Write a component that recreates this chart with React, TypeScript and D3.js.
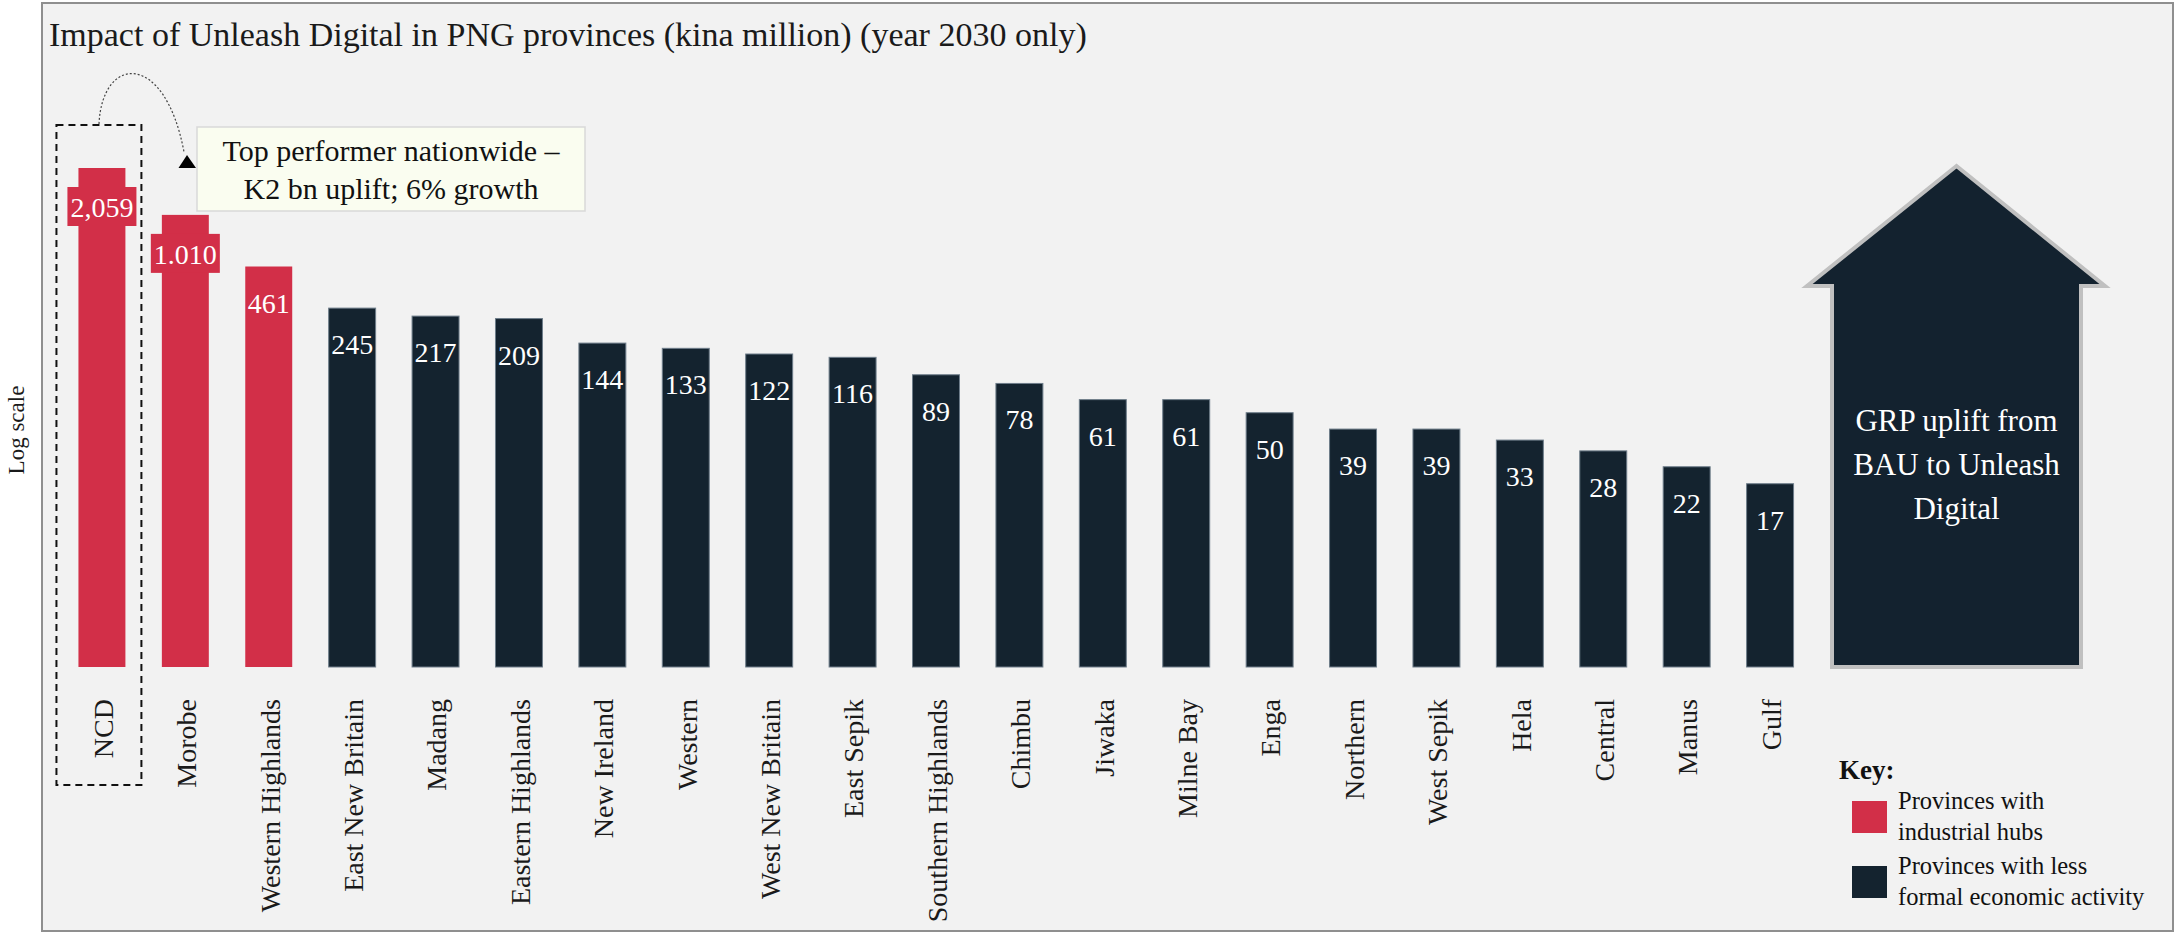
import React from "react";
import * as d3 from "d3";

const provinces = [
  "NCD", "Morobe", "Western Highlands", "East New Britain", "Madang",
  "Eastern Highlands", "New Ireland", "Western", "West New Britain", "East Sepik",
  "Southern Highlands", "Chimbu", "Jiwaka", "Milne Bay", "Enga",
  "Northern", "West Sepik", "Hela", "Central", "Manus", "Gulf",
];
const uplift = [2059, 1010, 461, 245, 217, 209, 144, 133, 122, 116, 89, 78, 61, 61, 50, 39, 39, 33, 28, 22, 17];
const valueLabels = ["2,059", "1.010", "461", "245", "217", "209", "144", "133", "122", "116", "89", "78", "61", "61", "50", "39", "39", "33", "28", "22", "17"];
const hubProvinces = ["NCD", "Morobe", "Western Highlands"];
const boxedLabels = ["NCD", "Morobe"];

const titleText = "Impact of Unleash Digital in PNG provinces (kina million) (year 2030 only)";
const calloutLines = ["Top performer nationwide \u2013", "K2 bn uplift; 6% growth"];
const arrowLines = ["GRP uplift from", "BAU to Unleash", "Digital"];
const legendItems = [
  { key: "hub", lines: ["Provinces with", "industrial hubs"] },
  { key: "other", lines: ["Provinces with less", "formal economic activity"] },
];

const W = 2175;
const H = 933;
const RED = "#d22f48";
const NAVY = "#14232f";
const FONT = "'Liberation Serif', 'DejaVu Serif', serif";

export default function App() {
  const x = d3.scaleBand<string>().domain(provinces).range([42, 1830]).padding(0.437);
  const y = d3.scaleLog().domain([1.05, 2059]).range([667, 168]);
  const base = y(1.05);
  const bw = x.bandwidth();
  const color = (p: string) => (hubProvinces.includes(p) ? RED : NAVY);

  const ncdX = x("NCD")!;
  const dashLeft = ncdX - 22;
  const dashRight = ncdX + bw + 16;

  const arrowL = 1832;
  const arrowR = 2081;
  const arrowCx = (arrowL + arrowR) / 2;
  const shoulderY = 286;
  const arrowPts = [
    [arrowCx, 166],
    [arrowR + 24, shoulderY],
    [arrowR, shoulderY],
    [arrowR, base],
    [arrowL, base],
    [arrowL, shoulderY],
    [arrowL - 25, shoulderY],
  ].map((p) => p.join(",")).join(" ");

  return (
    <svg
      width={W}
      height={H}
      style={{ position: "absolute", left: 0, top: 0, display: "block", background: "#ffffff" }}
      fontFamily={FONT}
    >
      <rect x={42} y={3} width={2131} height={928} fill="#f2f2f2" stroke="#8f8f8f" strokeWidth={2} />

      <text x={49} y={46} fontSize={34} fill="#1a1a1a">{titleText}</text>

      <text transform="translate(24,430) rotate(-90)" textAnchor="middle" fontSize={23} fill="#1a1a1a">
        Log scale
      </text>

      {/* bars */}
      {provinces.map((p, i) => {
        const top = y(uplift[i]);
        const hub = hubProvinces.includes(p);
        return (
          <rect
            key={p}
            x={x(p)!}
            y={top}
            width={bw}
            height={base - top}
            fill={color(p)}
            stroke={hub ? "none" : "#6e7d8a"}
            strokeWidth={hub ? 0 : 1}
          />
        );
      })}

      {/* value labels */}
      {provinces.map((p, i) => {
        const top = y(uplift[i]);
        const cx = x(p)! + bw / 2;
        const boxed = boxedLabels.includes(p);
        return (
          <g key={"v" + p}>
            {boxed && <rect x={cx - 34.5} y={top + 19} width={69} height={39} fill={RED} />}
            <text x={cx} y={top + (boxed ? 49 : 46)} textAnchor="middle" fontSize={28} fill="#ffffff">
              {valueLabels[i]}
            </text>
          </g>
        );
      })}

      {/* category labels */}
      {provinces.map((p) => (
        <text
          key={"c" + p}
          transform={`translate(${x(p)! + bw / 2 + 1},699) rotate(-90)`}
          textAnchor="end"
          dy="0.35em"
          fontSize={28}
          fill="#1a1a1a"
        >
          {p}
        </text>
      ))}

      {/* dashed highlight around NCD */}
      <rect
        x={dashLeft}
        y={125}
        width={dashRight - dashLeft}
        height={660}
        fill="none"
        stroke="#111"
        strokeWidth={2}
        strokeDasharray="7,5"
      />

      {/* callout */}
      <path d="M 99 124 C 102 55, 165 50, 184 152" fill="none" stroke="#444" strokeWidth={1.2} strokeDasharray="2,2" />
      <polygon points="187,155 178.5,168 196,168" fill="#000" />
      <rect x={197} y={127} width={388} height={84} fill="#fafdf0" stroke="#d9d9d9" strokeWidth={1.5} />
      {calloutLines.map((t, i) => (
        <text key={t} x={391} y={161 + i * 38} textAnchor="middle" fontSize={30} fill="#111">
          {t}
        </text>
      ))}

      {/* big arrow */}
      <polygon points={arrowPts} fill="#13222f" stroke="#c0c0c0" strokeWidth={4} strokeLinejoin="miter" />
      {arrowLines.map((t, i) => (
        <text key={t} x={arrowCx} y={431 + i * 44} textAnchor="middle" fontSize={31} fill="#ffffff">
          {t}
        </text>
      ))}

      {/* legend */}
      <text x={1839} y={779} fontSize={27} fontWeight="bold" fill="#111">Key:</text>
      {legendItems.map((it, i) => {
        const sy = 801 + i * 65;
        return (
          <g key={it.key}>
            <rect x={1852} y={sy} width={35} height={32} fill={it.key === "hub" ? RED : NAVY} />
            {it.lines.map((l, j) => (
              <text key={l} x={1898} y={sy + 8 + j * 31} fontSize={24.5} fill="#111">
                {l}
              </text>
            ))}
          </g>
        );
      })}
    </svg>
  );
}
